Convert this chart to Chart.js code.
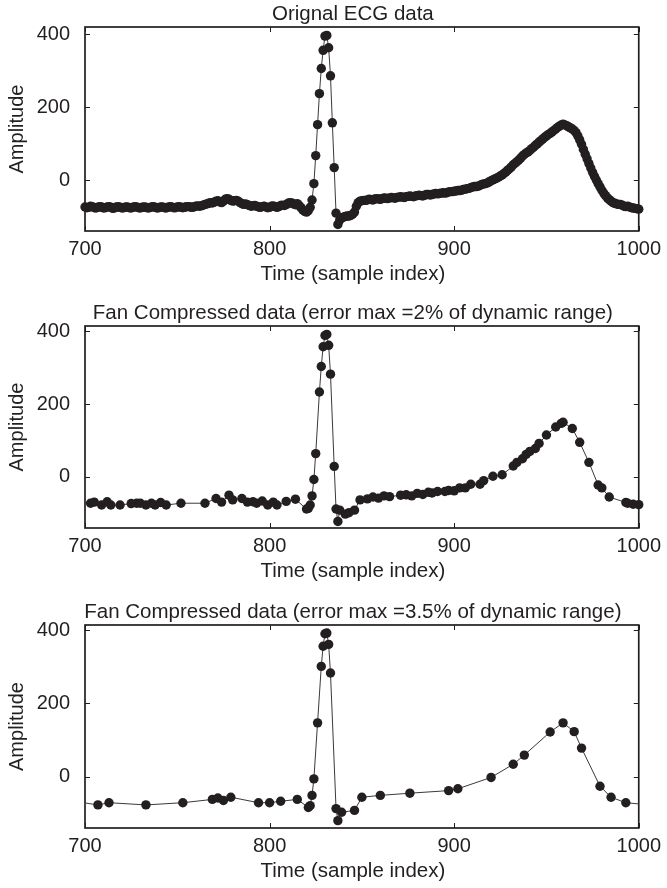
<!DOCTYPE html>
<html><head><meta charset="utf-8">
<script src="https://cdn.jsdelivr.net/npm/chart.js@4.4.1/dist/chart.umd.min.js"></script>
<style>
html,body{margin:0;padding:0;background:#fff;}
#wrap{position:relative;width:667px;height:888px;overflow:hidden;background:#fff;}
canvas{position:absolute;left:0;}
</style></head><body>
<div id="wrap">
<canvas id="c1" width="667" height="296" style="top:0px"></canvas>
<canvas id="c2" width="667" height="296" style="top:299px"></canvas>
<canvas id="c3" width="667" height="290" style="top:598px"></canvas>
</div>
<script>
// ---------- data ----------
const xTicks = [700, 800, 900, 1000];
const xTickLabels = ['700', '800', '900', '1000'];
const yTicks = [0, 200, 400];
const yTickLabels = ['0', '200', '400'];
const xAxisTitle = 'Time (sample index)';
const yAxisTitle = 'Amplitude';
const titles = [
  'Orignal ECG data',
  'Fan Compressed data (error max =2% of dynamic range)',
  'Fan Compressed data (error max =3.5% of dynamic range)'
];

// original ECG: one value per sample, samples 700..1000
const origStart = 700;
const origValues = [
  -74,-76,-75,-72,-73,-76,-77,-75,-73,-74,
  -77,-76,-74,-73,-75,-78,-77,-74,-73,-75,
  -77,-76,-74,-74,-76,-77,-75,-73,-74,-76,
  -77,-75,-74,-75,-77,-76,-74,-73,-75,-77,
  -76,-74,-74,-76,-77,-75,-73,-74,-76,-76,
  -74,-73,-75,-76,-75,-73,-73,-74,-75,-74,
  -72,-71,-72,-71,-69,-67,-66,-64,-62,-63,
  -61,-58,-57,-60,-62,-58,-53,-51,-53,-56,
  -58,-57,-56,-58,-62,-65,-67,-66,-68,-70,
  -72,-71,-70,-72,-74,-75,-73,-72,-74,-76,
  -75,-72,-71,-73,-75,-73,-70,-69,-70,-68,
  -64,-62,-63,-66,-68,-65,-70,-76,-82,-86,
  -88,-84,-75,-55,-10,67,152,237,306,356,
  395,397,363,286,157,34,-91,-122,-110,-104,
  -102,-100,-99,-99,-97,-94,-88,-72,-62,-58,
  -57,-56,-56,-55,-53,-54,-55,-52,-51,-52,
  -53,-51,-49,-50,-51,-49,-48,-49,-50,-48,
  -47,-46,-47,-48,-46,-45,-44,-45,-46,-44,
  -43,-42,-43,-44,-42,-40,-40,-41,-40,-38,
  -37,-38,-37,-36,-35,-36,-35,-33,-32,-32,
  -31,-30,-29,-29,-28,-26,-25,-24,-23,-21,
  -19,-18,-18,-17,-15,-12,-11,-10,-8,-5,
  -2,0,3,5,8,11,14,18,22,27,
  31,36,42,46,50,55,60,66,70,74,
  77,81,86,90,95,99,104,108,113,117,
  121,125,128,132,136,140,144,148,151,153,
  151,149,146,143,140,136,130,121,110,98,
  84,71,58,45,33,21,10,0,-10,-19,
  -28,-36,-43,-49,-54,-58,-62,-64,-66,-67,
  -67,-69,-72,-73,-72,-74,-76,-77,-78,-79,
  -80
];

// Fan compressed, 2 %
const fan2Samples = [703,705,709,712,714,719,725,728,730,733,736,738,741,744,752,765,771,774,778,780,
  785,788,791,793,796,799,802,804,809,814,820,821,822,823,824,825,827,828,829,830,
  831,832,833,835,836,837,838,841,843,846,849,853,856,859,862,865,871,874,877,880,
  883,886,888,891,895,897,900,903,906,909,914,916,921,926,932,934,937,939,941,944,
  946,950,955,958,959,964,968,973,978,980,984,993,994,997,1000];
const fan2Values = [-72,-69,-77,-68,-77,-77,-73,-72,-72,-77,-72,-77,-70,-77,-72,-72,-59,-69,-50,-63,
  -59,-69,-68,-72,-66,-77,-69,-77,-67,-61,-88,-86,-77,-52,-7,64,233,303,357,388,
  391,361,282,29,-88,-122,-91,-102,-98,-91,-63,-60,-55,-58,-52,-54,-50,-49,-52,-45,
  -48,-42,-44,-40,-40,-37,-38,-30,-30,-20,-20,-10,2,6,30,40,50,62,70,78,
  92,115,137,147,150,133,95,40,-22,-30,-55,-70,-72,-75,-76];

// Fan compressed, 3.5 %
const fan35Samples = [694,707,713,733,753,769,772,775,779,794,800,806,815,821,822,823,824,826,828,829,
  830,831,832,833,836,837,839,846,850,860,876,897,902,920,932,938,952,959,965,969,
  979,985,993,1006];
const fan35Values = [-67,-77,-71,-77,-71,-62,-58,-65,-56,-71,-71,-67,-62,-84,-79,-51,-6,147,301,356,
  390,392,361,283,-87,-120,-97,-92,-56,-51,-45,-38,-33,-2,34,59,122,147,123,78,
  -26,-56,-71,-77];

// ---------- drawing ----------
const INK = '#231f20';
const FONT = "'Liberation Sans', Arial, Helvetica, sans-serif";
const font20 = { family: FONT, size: 20, weight: 'normal' };

const framePlugin = {
  id: 'frame',
  beforeDatasetsDraw(chart) {
    const { ctx, chartArea: a, scales: { x, y } } = chart;
    ctx.save();
    ctx.strokeStyle = INK;
    ctx.lineWidth = 1;
    const L = 5;
    ctx.beginPath();
    x.ticks.forEach(t => {
      const px = Math.round(x.getPixelForValue(t.value)) + 0.5;
      ctx.moveTo(px, a.bottom); ctx.lineTo(px, a.bottom - L);
      ctx.moveTo(px, a.top); ctx.lineTo(px, a.top + L);
    });
    y.ticks.forEach(t => {
      const py = Math.round(y.getPixelForValue(t.value)) + 0.5;
      ctx.moveTo(a.left, py); ctx.lineTo(a.left + L, py);
      ctx.moveTo(a.right, py); ctx.lineTo(a.right - L, py);
    });
    ctx.stroke();
    ctx.lineWidth = 1.7;
    ctx.strokeRect(a.left, a.top, a.right - a.left, a.bottom - a.top);
    ctx.restore();
  },
  afterDraw(chart, args, opts) {
    const { ctx, chartArea: a } = chart;
    const cx = (a.left + a.right) / 2 - 9;
    ctx.save();
    ctx.fillStyle = INK;
    ctx.font = `20.5px ${FONT}`;
    ctx.textAlign = 'center';
    ctx.textBaseline = 'middle';
    ctx.fillText(opts.title, cx, a.top - 13);
    ctx.fillText(opts.xTitle, cx, a.bottom + 43);
    ctx.restore();
  }
};

function makeChart(id, title, xs, ys, yMin, yMax, plotH) {
  const canvas = document.getElementById(id);
  const pts = xs.map((x, i) => ({ x: x, y: ys[i] }));
  const xAxisH = canvas.height - 25 - plotH;
  return new Chart(canvas, {
    type: 'line',
    data: {
      datasets: [
        { data: pts, showLine: false, pointRadius: 4.7, pointHoverRadius: 4.7,
          pointBackgroundColor: INK, pointBorderWidth: 0, clip: 6 },
        { data: pts, borderColor: '#3a3a3a', borderWidth: 1, pointRadius: 0,
          tension: 0, clip: 0, fill: false }
      ]
    },
    options: {
      responsive: false,
      animation: false,
      events: [],
      layout: { padding: { left: 0, right: 25, top: 25, bottom: 0 } },
      plugins: {
        legend: { display: false },
        tooltip: { enabled: false },
        title: { display: false },
        frame: { title: title, xTitle: xAxisTitle }
      },
      scales: {
        x: {
          type: 'linear', min: 700, max: 1000,
          afterBuildTicks: s => { s.ticks = xTicks.map(v => ({ value: v })); },
          afterFit: s => { s.height = xAxisH; },
          grid: { display: false, drawTicks: false },
          border: { display: false },
          ticks: { color: INK, font: font20, padding: 6, maxRotation: 0, autoSkip: false,
                   callback: (v) => xTickLabels[xTicks.indexOf(v)] },
          title: { display: false }
        },
        y: {
          type: 'linear', min: yMin, max: yMax,
          afterBuildTicks: s => { s.ticks = yTicks.map(v => ({ value: v })); },
          afterFit: s => { s.width = 85; },
          grid: { display: false, drawTicks: false },
          border: { display: false },
          ticks: { color: INK, font: font20, padding: 15, autoSkip: false,
                   callback: (v) => yTickLabels[yTicks.indexOf(v)] },
          title: { display: true, text: yAxisTitle, color: INK, font: font20, padding: { top: 5, bottom: 0 } }
        }
      }
    },
    plugins: [framePlugin]
  });
}

makeChart('c1', titles[0], origValues.map((v, i) => origStart + i), origValues, -140, 420, 206);
makeChart('c2', titles[1], fan2Samples, fan2Values, -140, 414, 204);
makeChart('c3', titles[2], fan35Samples, fan35Values, -140, 414, 205);
</script>
</body></html>
